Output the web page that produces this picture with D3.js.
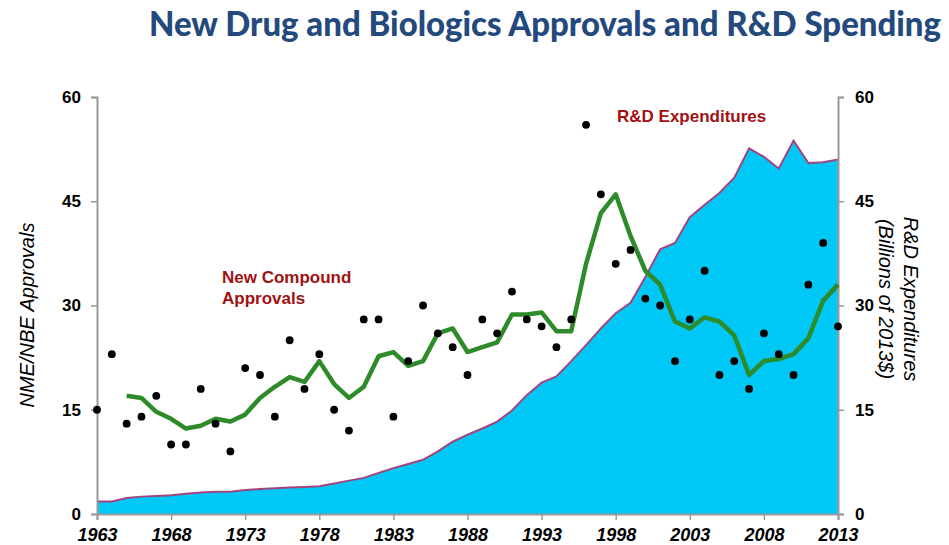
<!DOCTYPE html>
<meta charset="utf-8">
<body style="margin:0;background:#fff">
<style>
  .tick-y { font: bold 17px "Liberation Sans", Arial, sans-serif; fill: #000; }
  .tick-x { font: italic bold 18px "Liberation Sans", Arial, sans-serif; fill: #000; }
  .axis-title { font: italic 20px "Liberation Sans", Arial, sans-serif; fill: #000; }
  .note { font: bold 17px "Liberation Sans", Arial, sans-serif; fill: #a01212; }
  .title { font: 900 34px Lato, "Open Sans", sans-serif; fill: #23497d; }
</style>
<svg width="949" height="545"></svg>
<script src="https://d3js.org/d3.v7.min.js"></script>
<script>

// Data
var years = d3.range(1963, 2014);
var approvals = [15, 23, 13, 14, 17, 10, 10, 18, 13, 9,
                 21, 20, 14, 25, 18, 23, 15, 12, 28, 28,
                 14, 22, 30, 26, 24, 20, 28, 26, 32, 28,
                 27, 24, 28, 56, 46, 36, 38, 31, 30, 22,
                 28, 35, 20, 22, 18, 26, 23, 20, 33, 39, 27];
// 3-year average line, starts in 1965
var avgYears = d3.range(1965, 2014);
var avgApprovals = [17.0, 16.7, 14.7, 13.7, 12.3, 12.7, 13.7, 13.3, 14.3, 16.7,
                    18.3, 19.7, 19.0, 22.0, 18.7, 16.7, 18.3, 22.7, 23.3, 21.3,
                    22.0, 26.0, 26.7, 23.3, 24.0, 24.7, 28.7, 28.7, 29.0, 26.3,
                    26.3, 36.0, 43.3, 46.0, 40.0, 35.0, 33.0, 27.7, 26.7, 28.3,
                    27.7, 25.7, 20.0, 22.0, 22.3, 23.0, 25.3, 30.7, 33.0];
// R&D spending, billions of 2013$
var rdSpend = [1.8, 1.8, 2.3, 2.5, 2.6, 2.7, 2.9, 3.1, 3.2, 3.2,
               3.45, 3.6, 3.7, 3.8, 3.9, 4.0, 4.4, 4.8, 5.2, 5.9,
               6.6, 7.2, 7.8, 9.0, 10.4, 11.4, 12.3, 13.3, 14.9, 17.1,
               18.9, 19.8, 22.0, 24.3, 26.7, 28.9, 30.4, 34.1, 38.1, 39.0,
               42.7, 44.5, 46.2, 48.4, 52.6, 51.4, 49.7, 53.7, 50.5, 50.6, 51.0];
var xTicks = d3.range(1963, 2014, 5);
var yTicks = [0, 15, 30, 45, 60];

var svg = d3.select("svg");
var mLeft = 97, mRight = 838, mTop = 97, mBottom = 514;

var x = d3.scaleLinear().domain([1963, 2013]).range([mLeft, mRight]);
var yL = d3.scaleLinear().domain([0, 60]).range([mBottom, mTop]);
var yR = d3.scaleLinear().domain([0, 60]).range([mBottom, mTop]);

// Title
svg.append("text")
    .attr("class", "title")
    .attr("x", 149)
    .attr("y", 36)
    .attr("textLength", 792)
    .attr("lengthAdjust", "spacingAndGlyphs")
    .text("New Drug and Biologics Approvals and R&D Spending");

// R&D area
var rd = years.map(function (d, i) { return { year: d, v: rdSpend[i] }; });
svg.append("path")
    .datum(rd)
    .attr("fill", "#00c8f6")
    .attr("d", d3.area()
        .x(function (d) { return x(d.year); })
        .y0(mBottom)
        .y1(function (d) { return yR(d.v); }));
svg.append("path")
    .datum(rd)
    .attr("fill", "none")
    .attr("stroke", "#a2457e")
    .attr("stroke-width", 2)
    .attr("d", d3.line()
        .x(function (d) { return x(d.year); })
        .y(function (d) { return yR(d.v); }));

// Axes
var axL = svg.append("g")
    .attr("transform", "translate(" + mLeft + ",0)")
    .call(d3.axisLeft(yL).tickValues(yTicks).tickSize(6).tickPadding(10));
var axR = svg.append("g")
    .attr("transform", "translate(" + mRight + ",0)")
    .call(d3.axisRight(yR).tickValues(yTicks).tickSize(6).tickPadding(11));
var axB = svg.append("g")
    .attr("transform", "translate(0," + mBottom + ")")
    .call(d3.axisBottom(x).tickValues(xTicks).tickFormat(d3.format("d")).tickSize(6).tickPadding(5));

[axL, axR, axB].forEach(function (g) {
    g.attr("font-family", null).attr("font-size", null);
    g.select(".domain").attr("stroke", "#9a9a9a").attr("stroke-width", 2);
    g.selectAll(".tick line").attr("stroke", "#9a9a9a").attr("stroke-width", 1.5);
});
axL.selectAll("text").attr("class", "tick-y");
axR.selectAll("text").attr("class", "tick-y");
axB.selectAll("text").attr("class", "tick-x").attr("dy", "0.9em");

// Green average line
svg.append("path")
    .datum(avgYears.map(function (d, i) { return { year: d, v: avgApprovals[i] }; }))
    .attr("fill", "none")
    .attr("stroke", "#2e8b2a")
    .attr("stroke-width", 4.5)
    .attr("stroke-linejoin", "round")
    .attr("d", d3.line()
        .x(function (d) { return x(d.year); })
        .y(function (d) { return yL(d.v); }));

// Dots
svg.append("g")
    .selectAll("circle")
    .data(years)
    .enter().append("circle")
        .attr("cx", function (d) { return x(d); })
        .attr("cy", function (d, i) { return yL(approvals[i]); })
        .attr("r", 3.9)
        .attr("fill", "#000");

// Axis titles
svg.append("text")
    .attr("class", "axis-title")
    .attr("text-anchor", "middle")
    .attr("transform", "translate(34,315) rotate(-90)")
    .text("NME/NBE Approvals");
svg.append("text")
    .attr("class", "axis-title")
    .attr("text-anchor", "middle")
    .attr("transform", "translate(904,299) rotate(90)")
    .text("R&D Expenditures");
svg.append("text")
    .attr("class", "axis-title")
    .attr("text-anchor", "middle")
    .attr("transform", "translate(879,299) rotate(90)")
    .text("(Billions of 2013$)");

// Annotations
svg.append("text").attr("class", "note").attr("x", 222).attr("y", 283).text("New Compound");
svg.append("text").attr("class", "note").attr("x", 222).attr("y", 304).text("Approvals");
svg.append("text").attr("class", "note").attr("x", 617).attr("y", 122).text("R&D Expenditures");

</script>
</body>
